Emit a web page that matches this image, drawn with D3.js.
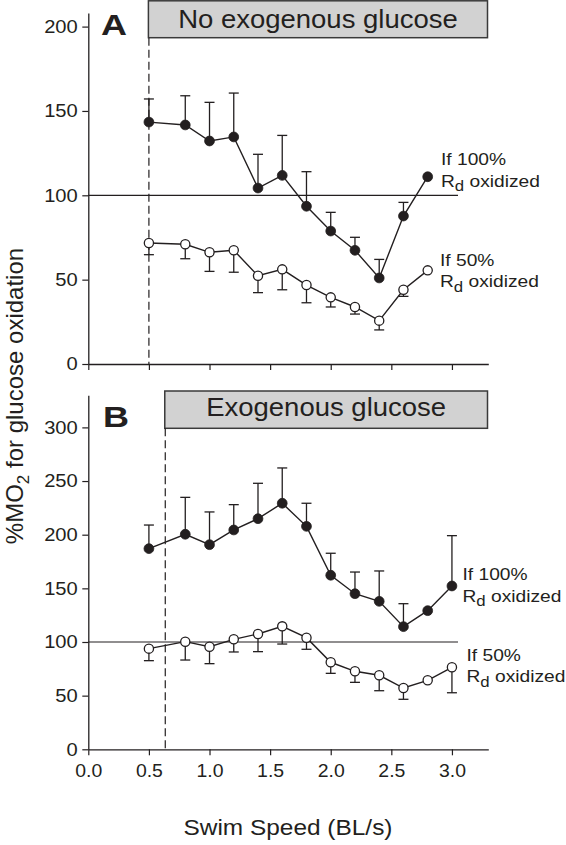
<!DOCTYPE html>
<html>
<head>
<meta charset="utf-8">
<script src="https://cdn.jsdelivr.net/npm/d3@7"></script>
<style>
  html, body { margin: 0; padding: 0; background: #fff; }
  svg { display: block; }
</style>
</head>
<body>
<svg id="chart" width="566" height="845"></svg>
<script>
// ---- data ----
const speedsA = [0.5, 0.8, 1.0, 1.2, 1.4, 1.6, 1.8, 2.0, 2.2, 2.4, 2.6, 2.8];
const fullA    = [143.4, 141.7, 132.2, 134.6, 104.3, 111.8, 93.5, 78.8, 67.4, 51.0, 87.7, 111.0];
const fullErrA = [13.7, 17.3, 22.9, 26.0, 20.0, 23.7, 20.5, 11.1, 7.7, 11.0, 8.1, null];
const halfA    = [71.7, 71.0, 66.2, 67.4, 52.3, 56.1, 46.8, 39.5, 33.8, 25.7, 44.0, 55.5];
const halfErrA = [6.9, 8.6, 11.3, 13.0, 10.0, 12.1, 10.5, 5.7, 4.2, 5.5, 3.9, null];

const speedsB = [0.5, 0.8, 1.0, 1.2, 1.4, 1.6, 1.8, 2.0, 2.2, 2.4, 2.6, 2.8, 3.0];
const fullB    = [187.0, 200.4, 190.7, 204.4, 214.9, 229.3, 207.8, 162.2, 145.0, 137.9, 114.3, 129.2, 152.2];
const fullErrB = [22.0, 34.4, 30.5, 23.6, 33.0, 32.9, 21.5, 20.5, 20.2, 28.3, 21.4, null, 46.9];
const halfB    = [93.8, 100.3, 95.6, 102.5, 107.5, 114.6, 104.0, 81.1, 72.7, 69.0, 57.1, 64.3, 76.4];
const halfErrB = [11.2, 17.1, 15.8, 11.8, 16.5, 16.5, 10.8, 10.3, 10.3, 14.4, 10.5, null, 23.7];

const xTicks = [0, 0.5, 1.0, 1.5, 2.0, 2.5, 3.0];
const yTicksA = [0, 50, 100, 150, 200];
const yTicksB = [0, 50, 100, 150, 200, 250, 300];
const thresholdLine = 100;
const onsetA = 0.5;     // dashed line, panel A
const onsetB = 0.635;   // dashed line, panel B
const titleA = "No exogenous glucose";
const titleB = "Exogenous glucose";

// ---- drawing ----
const FONT = "'Liberation Sans', Arial, Helvetica, sans-serif";
const INK = "#231f20";
const svg = d3.select("#chart");

const x = d3.scaleLinear().domain([0, 3.3]).range([88.3, 488.3]);
const yA = d3.scaleLinear().domain([0, 208]).range([364, 13.1]);
const yB = d3.scaleLinear().domain([0, 330]).range([749.3, 395.2]);

function stretchedText(g, tx, ty, str, size, sx, anchor, weight) {
  return g.append("text")
    .attr("transform", `translate(${tx},${ty}) scale(${sx},1)`)
    .attr("font-family", FONT)
    .attr("font-size", size)
    .attr("font-weight", weight || "normal")
    .attr("fill", INK)
    .attr("text-anchor", anchor || "start")
    .text(str);
}

function rdLabel(g, tx, ty, pct) {
  stretchedText(g, tx, ty, "If " + pct + "%", 16, 1.2, "start");
  const t = g.append("text")
    .attr("transform", `translate(${tx},${ty + 21.5}) scale(1.2,1)`)
    .attr("font-family", FONT).attr("font-size", 16).attr("fill", INK);
  t.append("tspan").text("R");
  t.append("tspan").attr("font-size", 14).attr("dy", 4.5).text("d");
  t.append("tspan").attr("dy", -4.5).text(" oxidized");
}

function panel(opts) {
  const { y, yTicks, speeds, full, fullErr, half, halfErr, onset, title, letter,
          boxTop, boxBottom, letterX, letterY, titleY, showXLabels, lab100, lab50 } = opts;
  const g = svg.append("g");

  // title box
  const bx0 = x(onset) - 0.5, bx1 = x(3.3) - 0.8;
  g.append("rect")
    .attr("x", bx0).attr("y", boxTop)
    .attr("width", bx1 - bx0).attr("height", boxBottom - boxTop)
    .attr("fill", "#d2d2d2").attr("stroke", "#3a3a3a").attr("stroke-width", 1.5);
  stretchedText(g, (bx0 + bx1) / 2, titleY, title, 25, 1.1, "middle");

  // panel letter
  stretchedText(g, letterX, letterY, letter, 30, 1.2, "start", "bold");

  // dashed onset line
  g.append("line")
    .attr("x1", x(onset)).attr("x2", x(onset))
    .attr("y1", boxBottom).attr("y2", y(0))
    .attr("stroke", INK).attr("stroke-width", 1.2)
    .attr("stroke-dasharray", "8,4");

  // 100% line
  g.append("line")
    .attr("x1", x(0)).attr("x2", x(3.05))
    .attr("y1", y(thresholdLine)).attr("y2", y(thresholdLine))
    .attr("stroke", INK).attr("stroke-width", 1.2);

  // axes
  const ay = g.append("g").attr("transform", `translate(${x(0)},0)`)
    .call(d3.axisLeft(y).tickValues(yTicks).tickSize(6).tickSizeOuter(0).tickPadding(4));
  const ax = g.append("g").attr("transform", `translate(0,${y(0)})`)
    .call(d3.axisBottom(x).tickValues(xTicks).tickSize(6).tickSizeOuter(0)
      .tickPadding(9).tickFormat(showXLabels ? d3.format(".1f") : () => ""));
  [ay, ax].forEach(a => {
    a.select(".domain").attr("stroke", INK).attr("stroke-width", 1.3);
    a.selectAll(".tick line").attr("stroke", INK).attr("stroke-width", 1.2);
    a.selectAll("text").attr("font-family", FONT).attr("font-size", 18).attr("fill", INK);
  });
  ay.selectAll(".tick text").each(function () {
    const t = d3.select(this);
    t.attr("x", 0).attr("transform", "translate(-10.5,0) scale(1.12,1)");
  });
  ax.selectAll(".tick text").each(function () {
    const t = d3.select(this);
    t.attr("y", 0).attr("transform", "translate(0,15) scale(1.08,1)");
  });

  // series
  const fullPts = speeds.map((s, i) => ({ s, v: full[i], e: fullErr[i] }));
  const halfPts = speeds.map((s, i) => ({ s, v: half[i], e: halfErr[i] }));
  const line = d3.line().x(d => x(d.s)).y(d => y(d.v));
  const cap = 5;

  // error bars (filled: up, open: down)
  function errBars(pts, dir) {
    pts.filter(d => d.e != null).forEach(d => {
      const end = y(d.v + dir * d.e);
      g.append("line").attr("x1", x(d.s)).attr("x2", x(d.s))
        .attr("y1", y(d.v)).attr("y2", end)
        .attr("stroke", INK).attr("stroke-width", 1.3);
      g.append("line").attr("x1", x(d.s) - cap).attr("x2", x(d.s) + cap)
        .attr("y1", end).attr("y2", end)
        .attr("stroke", INK).attr("stroke-width", 1.3);
    });
  }
  errBars(fullPts, 1);
  errBars(halfPts, -1);

  g.append("path").datum(fullPts).attr("d", line)
    .attr("fill", "none").attr("stroke", INK).attr("stroke-width", 1.4);
  g.append("path").datum(halfPts).attr("d", line)
    .attr("fill", "none").attr("stroke", INK).attr("stroke-width", 1.4);

  g.selectAll(null).data(fullPts).enter().append("circle")
    .attr("cx", d => x(d.s)).attr("cy", d => y(d.v)).attr("r", 4.9)
    .attr("fill", INK).attr("stroke", INK).attr("stroke-width", 0.8);
  g.selectAll(null).data(halfPts).enter().append("circle")
    .attr("cx", d => x(d.s)).attr("cy", d => y(d.v)).attr("r", 4.6)
    .attr("fill", "#fff").attr("stroke", INK).attr("stroke-width", 1.3);

  rdLabel(g, lab100[0], lab100[1], 100);
  rdLabel(g, lab50[0], lab50[1], 50);
}

panel({
  y: yA, yTicks: yTicksA, speeds: speedsA, full: fullA, fullErr: fullErrA,
  half: halfA, halfErr: halfErrA, onset: onsetA, title: titleA, letter: "A",
  boxTop: 0.8, boxBottom: 37.7, letterX: 101, letterY: 35, titleY: 27.5,
  showXLabels: false, lab100: [441, 165], lab50: [440, 265.5]
});
panel({
  y: yB, yTicks: yTicksB, speeds: speedsB, full: fullB, fullErr: fullErrB,
  half: halfB, halfErr: halfErrB, onset: onsetB, title: titleB, letter: "B",
  boxTop: 391, boxBottom: 428.3, letterX: 103, letterY: 426.7, titleY: 416,
  showXLabels: true, lab100: [462.5, 580], lab50: [466.5, 660.5]
});

// axis titles
stretchedText(svg, 288, 835, "Swim Speed (BL/s)", 22, 1.11, "middle");
const yt = svg.append("text")
  .attr("transform", "translate(22.7,396) rotate(-90)")
  .attr("font-family", FONT).attr("font-size", 24).attr("fill", INK)
  .attr("text-anchor", "middle");
yt.append("tspan").text("%MO");
yt.append("tspan").attr("font-size", 17).attr("dy", 6).text("2");
yt.append("tspan").attr("dy", -6).text(" for glucose oxidation");
</script>
</body>
</html>
